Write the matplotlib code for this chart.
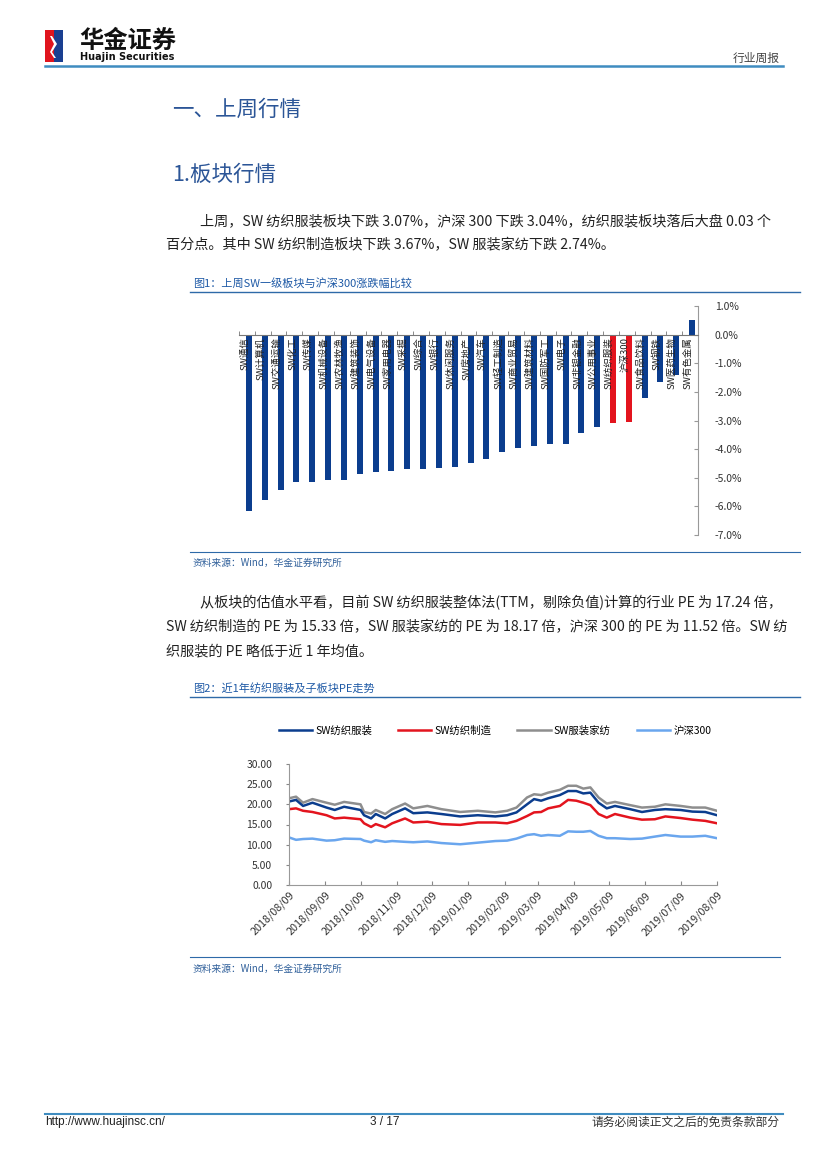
import matplotlib
matplotlib.use('Agg')
import matplotlib.pyplot as plt
import matplotlib.dates as mdates
from matplotlib.lines import Line2D
from matplotlib.patches import Rectangle, Polygon
import pandas as pd

plt.rcParams['font.family'] = ['Noto Sans CJK SC', 'DejaVu Sans']

# ---- figure 1: weekly change by SW level-1 sector (%)
sectors = ['SW通信', 'SW计算机', 'SW交通运输', 'SW化工', 'SW传媒', 'SW机械设备',
           'SW农林牧渔', 'SW建筑装饰', 'SW电气设备', 'SW家用电器', 'SW采掘', 'SW综合',
           'SW银行', 'SW休闲服务', 'SW房地产', 'SW汽车', 'SW轻工制造', 'SW商业贸易',
           'SW建筑材料', 'SW国防军工', 'SW电子', 'SW非银金融', 'SW公用事业',
           'SW纺织服装', '沪深300', 'SW食品饮料', 'SW钢铁', 'SW医药生物', 'SW有色金属']
changes = [-6.15, -5.76, -5.43, -5.15, -5.15, -5.09, -5.07, -4.87, -4.79, -4.76,
           -4.70, -4.70, -4.66, -4.61, -4.47, -4.35, -4.09, -3.95, -3.88, -3.83,
           -3.83, -3.43, -3.21, -3.07, -3.04, -2.20, -1.66, -1.40, 0.52]
highlight = ['SW纺织服装', '沪深300']
bar_ticks = [1, 0, -1, -2, -3, -4, -5, -6, -7]

# ---- figure 2: PE (TTM) over the last year
pe_dates = ['2018-08-09', '2018-08-15', '2018-08-21', '2018-08-29', '2018-09-10',
            '2018-09-17', '2018-09-25', '2018-10-09', '2018-10-12', '2018-10-18',
            '2018-10-22', '2018-10-30', '2018-11-05', '2018-11-16', '2018-11-23',
            '2018-12-05', '2018-12-17', '2019-01-02', '2019-01-17', '2019-02-01',
            '2019-02-11', '2019-02-19', '2019-02-28', '2019-03-06', '2019-03-12',
            '2019-03-18', '2019-03-28', '2019-04-04', '2019-04-11', '2019-04-17',
            '2019-04-23', '2019-04-30', '2019-05-07', '2019-05-14', '2019-05-27',
            '2019-06-06', '2019-06-17', '2019-06-26', '2019-07-09', '2019-07-19',
            '2019-07-30', '2019-08-09']
pe_textile_apparel = [20.7, 21.1, 19.6, 20.4, 19.2, 18.6, 19.4, 18.6, 17.3, 16.5,
                      17.6, 16.5, 17.6, 19.0, 17.8, 18.0, 17.6, 17.0, 17.3, 17.0,
                      17.3, 18.0, 20.0, 21.3, 20.9, 21.5, 22.3, 23.3, 23.3, 22.7,
                      22.9, 20.4, 19.0, 19.6, 18.8, 18.1, 18.6, 18.8, 18.6, 18.2,
                      18.1, 17.3]
pe_textile_mfg = [18.8, 19.0, 18.4, 18.1, 17.3, 16.5, 16.7, 16.3, 15.3, 14.4,
                  15.1, 14.3, 15.3, 16.5, 15.5, 15.7, 15.1, 14.9, 15.5, 15.5,
                  15.3, 15.9, 17.1, 18.0, 18.1, 19.0, 19.6, 21.1, 20.9, 20.4,
                  19.8, 17.6, 16.7, 17.6, 16.7, 16.2, 16.3, 17.0, 16.6, 16.2,
                  15.9, 15.3]
pe_apparel_home = [21.5, 21.9, 20.4, 21.3, 20.4, 19.9, 20.6, 20.0, 18.1, 17.7,
                   18.6, 17.6, 18.8, 20.2, 19.0, 19.6, 18.8, 18.1, 18.4, 18.0,
                   18.4, 19.2, 21.7, 22.5, 22.3, 22.9, 23.6, 24.6, 24.6, 23.9,
                   24.2, 21.7, 20.2, 20.6, 19.8, 19.2, 19.4, 20.0, 19.6, 19.2,
                   19.2, 18.4]
pe_hs300 = [11.8, 11.2, 11.4, 11.5, 11.0, 11.1, 11.5, 11.4, 11.0, 10.6,
            11.1, 10.7, 10.9, 10.7, 10.6, 10.8, 10.4, 10.1, 10.5, 10.9,
            11.0, 11.5, 12.4, 12.6, 12.2, 12.4, 12.2, 13.3, 13.2, 13.2,
            13.4, 12.2, 11.6, 11.6, 11.4, 11.5, 12.0, 12.4, 12.0, 12.0,
            12.2, 11.6]
pe_names = ['SW纺织服装', 'SW纺织制造', 'SW服装家纺', '沪深300']
pe_ticks = [0, 5, 10, 15, 20, 25, 30]
month_ticks = ['2018-08-09', '2018-09-09', '2018-10-09', '2018-11-09', '2018-12-09',
               '2019-01-09', '2019-02-09', '2019-03-09', '2019-04-09', '2019-05-09',
               '2019-06-09', '2019-07-09', '2019-08-09']

DARK_BLUE = '#0b3d8e'
RED = '#e3141e'
GRAY = '#8e8e8e'
LIGHT_BLUE = '#6aa6ee'
TITLE_BLUE = '#2b5597'
TEXT = '#222222'

W, H = 827, 1169
fig = plt.figure(figsize=(W / 100, H / 100), dpi=100)


def fx(x):
    return x / W


def fy(y):
    return 1 - y / H


def hline(y, x0, x1, color, lw):
    fig.add_artist(Line2D([fx(x0), fx(x1)], [fy(y), fy(y)], color=color, lw=lw))


def axes_px(x0, y0, x1, y1):
    return fig.add_axes([fx(x0), fy(y1), (x1 - x0) / W, (y1 - y0) / H])


# header: logo + name
fig.add_artist(Rectangle((fx(45), fy(62)), 9 / W, 32 / H, color='#e0141e', lw=0))
fig.add_artist(Rectangle((fx(54), fy(62)), 9 / W, 32 / H, color='#1a3f91', lw=0))
fig.add_artist(Polygon([(fx(52), fy(36)), (fx(57), fy(44)), (fx(52), fy(52)),
                        (fx(56), fy(58)), (fx(54), fy(58)), (fx(50), fy(52)),
                        (fx(54), fy(44)), (fx(50), fy(36))], color='white', lw=0))
fig.text(fx(79), fy(41), '华金证券', fontsize=17.5, fontweight='bold', color='#111111', va='center')
fig.text(fx(80), fy(57), 'Huajin Securities', fontsize=7, fontweight='bold', color='#111111',
         va='center', family=['DejaVu Sans'])
fig.text(fx(780), fy(58), '行业周报', fontsize=8.5, color='#444444', ha='right', va='center')
hline(66, 45, 783, '#3f8cc0', 1.8)

# section headings
fig.text(fx(172), fy(110), '一、上周行情', fontsize=15.5, color=TITLE_BLUE, va='center')
fig.text(fx(172), fy(175), '1.板块行情', fontsize=15.5, color=TITLE_BLUE, va='center')

fig.text(fx(200), fy(221), '上周，SW 纺织服装板块下跌 3.07%，沪深 300 下跌 3.04%，纺织服装板块落后大盘 0.03 个',
         fontsize=10.2, color=TEXT, va='center')
fig.text(fx(166), fy(245), '百分点。其中 SW 纺织制造板块下跌 3.67%，SW 服装家纺下跌 2.74%。',
         fontsize=10.2, color=TEXT, va='center')

# figure 1 caption
fig.text(fx(193), fy(283), '图1：上周SW一级板块与沪深300涨跌幅比较', fontsize=8, color='#1f5aa6', va='center')
hline(292, 190, 800, '#2e6aa8', 1.0)

ax1 = axes_px(239, 306, 698, 535)
x = list(range(len(sectors)))
colors = [RED if s in highlight else DARK_BLUE for s in sectors]
ax1.bar([i + 0.13 for i in x], changes, width=0.38, color=colors)
ax1.set_xlim(-0.5, len(sectors) - 0.5)
ax1.set_ylim(-7, 1)
ax1.spines['top'].set_visible(False)
ax1.spines['left'].set_visible(False)
ax1.spines['bottom'].set_position(('data', 0))
ax1.spines['bottom'].set_color('#777777')
ax1.spines['right'].set_color('#999999')
ax1.yaxis.tick_right()
ax1.set_yticks(bar_ticks)
ax1.set_yticklabels([f'{v:.1f}%' for v in bar_ticks], fontsize=7.5, color='#333333')
ax1.tick_params(axis='y', direction='in', length=3, color='#999999', pad=12)
ax1.set_xticks([i - 0.12 for i in x])
ax1.set_xticklabels(sectors, rotation=90, fontsize=6.8, color='#222222', va='top')
ax1.tick_params(axis='x', length=0, pad=2)
ax1.set_xticks([i + 0.5 for i in range(-1, len(sectors))], minor=True)
ax1.tick_params(axis='x', which='minor', direction='in', length=3, color='#777777')

hline(552, 190, 800, '#2e6aa8', 0.8)
fig.text(fx(193), fy(563), '资料来源：Wind，华金证券研究所', fontsize=7, color='#2f5f9a',
         style='italic', va='center')

fig.text(fx(200), fy(603), '从板块的估值水平看，目前 SW 纺织服装整体法(TTM，剔除负值)计算的行业 PE 为 17.24 倍，',
         fontsize=10.2, color=TEXT, va='center')
fig.text(fx(166), fy(627), 'SW 纺织制造的 PE 为 15.33 倍，SW 服装家纺的 PE 为 18.17 倍，沪深 300 的 PE 为 11.52 倍。SW 纺',
         fontsize=10.2, color=TEXT, va='center')
fig.text(fx(166), fy(651), '织服装的 PE 略低于近 1 年均值。', fontsize=10.2, color=TEXT, va='center')

# figure 2 caption
fig.text(fx(193), fy(688), '图2：近1年纺织服装及子板块PE走势', fontsize=8, color='#1f5aa6', va='center')
hline(697, 190, 800, '#2e6aa8', 1.0)

ax2 = axes_px(289, 764, 717, 885)
dates = pd.to_datetime(pe_dates)
series = [pe_textile_apparel, pe_textile_mfg, pe_apparel_home, pe_hs300]
line_colors = [DARK_BLUE, RED, GRAY, LIGHT_BLUE]
order = [3, 2, 1, 0]
handles = {}
for k in order:
    h, = ax2.plot(dates, series[k], color=line_colors[k], lw=1.8, label=pe_names[k])
    handles[k] = h
ax2.set_xlim(pd.Timestamp('2018-08-09'), pd.Timestamp('2019-08-09'))
ax2.set_ylim(0, 30)
ax2.set_yticks(pe_ticks)
ax2.set_yticklabels([f'{v:.2f}' for v in pe_ticks], fontsize=7.5, color='#333333')
ax2.set_xticks(pd.to_datetime(month_ticks))
ax2.xaxis.set_major_formatter(mdates.DateFormatter('%Y/%m/%d'))
plt.setp(ax2.get_xticklabels(), rotation=45, ha='right', rotation_mode='anchor',
         fontsize=7.8, color='#333333')
ax2.tick_params(axis='x', direction='in', length=3, color='#888888')
ax2.tick_params(axis='y', direction='out', length=2, color='#888888', pad=10)
for s in ['top', 'right']:
    ax2.spines[s].set_visible(False)
for s in ['left', 'bottom']:
    ax2.spines[s].set_color('#999999')

fig.legend([handles[k] for k in range(4)], pe_names, loc='center',
           bbox_to_anchor=(fx(495), fy(731)), ncol=4, frameon=False, fontsize=7.5,
           handlelength=3.2, columnspacing=2.5, handletextpad=0.3)

hline(957, 190, 780, '#2e6aa8', 0.8)
fig.text(fx(193), fy(969), '资料来源：Wind，华金证券研究所', fontsize=7, color='#2f5f9a',
         style='italic', va='center')

# footer
hline(1114, 45, 783, '#3f8cc0', 1.5)
fig.text(fx(45), fy(1122), 'http://www.huajinsc.cn/', fontsize=8.5, color='#222222',
         va='center', family=['Liberation Sans'])
fig.text(fx(370), fy(1122), '3 / 17', fontsize=8.5, color='#222222', va='center',
         family=['Liberation Sans'])
fig.text(fx(780), fy(1122), '请务必阅读正文之后的免责条款部分', fontsize=8.5, color='#333333',
         ha='right', va='center')

fig.savefig('out.png', dpi=100)
